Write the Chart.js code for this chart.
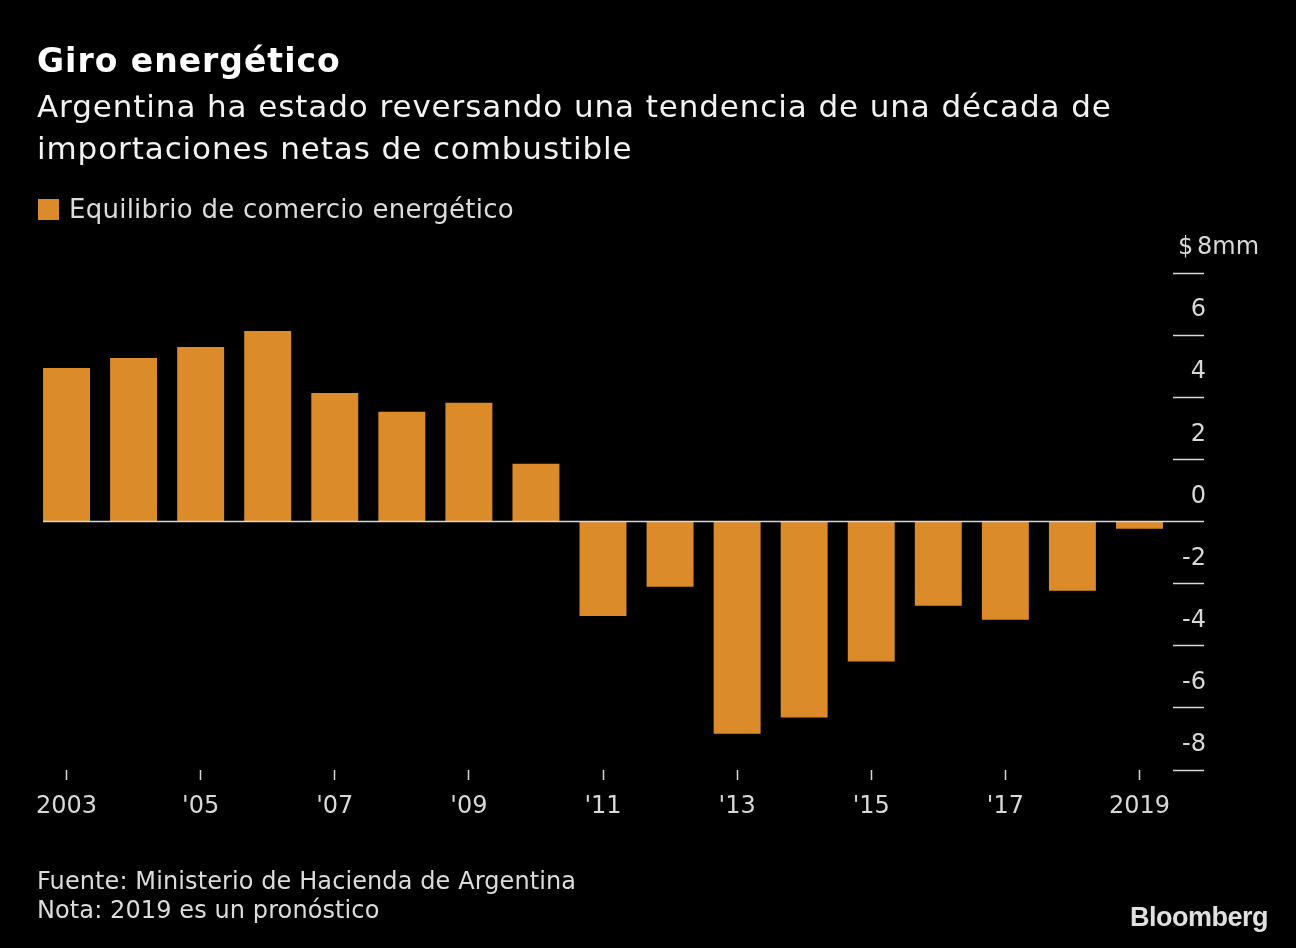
<!DOCTYPE html>
<html>
<head>
<meta charset="utf-8">
<script src="https://cdn.jsdelivr.net/npm/chart.js@4"></script>
<style>
  body { margin: 0; background: #000; width: 1296px; height: 948px; overflow: hidden; font-family: "DejaVu Sans", sans-serif; }
  #chart { position: absolute; left: 0; top: 0; }
  .txt { position: absolute; left: 37px; white-space: nowrap; color: #f2f2f2; }
  #title { top: 41px; font-weight: bold; font-size: 33px; letter-spacing: 1px; color: #fff; }
  #subtitle { top: 85px; font-size: 31px; line-height: 42px; letter-spacing: 0.9px; }
  #legend { top: 194px; font-size: 26px; color: #dcdcdc; left: 38px; letter-spacing: 0.25px; }
  #legend span { display: inline-block; width: 21px; height: 21px; background: #dc8b2a; margin-right: 10px; vertical-align: -2px; }
  #footer { top: 867px; font-size: 24px; line-height: 29px; color: #dcdcdc; letter-spacing: 0.1px; }
  #logo { position: absolute; right: 28px; top: 902px; font-family: "Liberation Sans", sans-serif; font-weight: bold; font-size: 27px; color: #e0e0e0; letter-spacing: -0.5px; }
</style>
</head>
<body>
<canvas id="chart" width="1296" height="948"></canvas>
<div class="txt" id="title">Giro energético</div>
<div class="txt" id="subtitle">Argentina ha estado reversando una tendencia de una década de<br>importaciones netas de combustible</div>
<div class="txt" id="legend"><span></span>Equilibrio de comercio energético</div>
<div class="txt" id="footer">Fuente: Ministerio de Hacienda de Argentina<br>Nota: 2019 es un pronóstico</div>
<div id="logo">Bloomberg</div>
<script>
// data (USD billions)
var years = [2003, 2004, 2005, 2006, 2007, 2008, 2009, 2010, 2011, 2012, 2013, 2014, 2015, 2016, 2017, 2018, 2019];
var balance = [4.94, 5.26, 5.62, 6.13, 4.14, 3.53, 3.82, 1.86, -3.04, -2.10, -6.83, -6.31, -4.51, -2.71, -3.16, -2.23, -0.23];
var tickLabels = ["2003", "", "'05", "", "'07", "", "'09", "", "'11", "", "'13", "", "'15", "", "'17", "", "2019"];
var yTicks = [-8, -6, -4, -2, 0, 2, 4, 6, 8];

var barColor = "#dc8b2a";
var lineColor = "#d8d8d8";
var tickFont = {family: "DejaVu Sans", size: 24};

// zero line from first bar edge, plus the "$8mm" unit label at the top tick
var extras = {
	id: "extras",
	afterDatasetsDraw: function(chart) {
		var ctx = chart.ctx;
		var y = chart.scales.y;
		var bars = chart.getDatasetMeta(0).data;
		var y0 = y.getPixelForValue(0);
		ctx.save();
		ctx.strokeStyle = lineColor;
		ctx.lineWidth = 1.5;
		ctx.beginPath();
		ctx.moveTo(bars[0].x - bars[0].width / 2, y0);
		ctx.lineTo(chart.chartArea.right, y0);
		ctx.stroke();

		var yTop = y.getPixelForValue(yTicks[yTicks.length - 1]) - 25;
		var x0 = chart.chartArea.right + 5;
		ctx.fillStyle = lineColor;
		ctx.font = "24px 'DejaVu Sans'";
		ctx.textAlign = "left";
		ctx.textBaseline = "middle";
		ctx.fillText("$", x0, yTop);
		ctx.fillText(yTicks[yTicks.length - 1] + "mm", x0 + 19, yTop);
		ctx.restore();
	}
};

var ctx = document.getElementById("chart").getContext("2d");

new Chart(ctx, {
	type: "bar",
	data: {
		labels: years,
		datasets: [{
			label: "Equilibrio de comercio energético",
			data: balance,
			backgroundColor: barColor,
			borderWidth: 0,
			categoryPercentage: 1,
			barPercentage: 0.7
		}]
	},
	options: {
		responsive: false,
		animation: false,
		layout: {padding: {left: 33, right: 90, top: 273, bottom: 128}},
		plugins: {legend: {display: false}, tooltip: {enabled: false}},
		scales: {
			x: {
				offset: true,
				border: {display: false},
				grid: {
					offset: false,
					drawOnChartArea: false,
					tickLength: 10,
					tickWidth: 1.5,
					tickColor: function(c) { return tickLabels[c.index] ? lineColor : "transparent"; }
				},
				ticks: {
					autoSkip: false,
					maxRotation: 0,
					padding: 12,
					color: lineColor,
					font: tickFont,
					callback: function(v, i) { return tickLabels[i]; }
				},
				afterFit: function(s) { s.height = 50; }
			},
			y: {
				position: "right",
				min: yTicks[0],
				max: yTicks[yTicks.length - 1],
				border: {display: false},
				afterBuildTicks: function(s) { s.ticks = yTicks.map(function(v) { return {value: v}; }); },
				grid: {
					drawOnChartArea: false,
					tickLength: 31,
					tickWidth: 1.5,
					tickColor: lineColor
				},
				ticks: {
					crossAlign: "far",
					padding: -22,
					labelOffset: -25,
					color: lineColor,
					font: tickFont,
					callback: function(v) { return v === yTicks[yTicks.length - 1] ? "" : v; }
				},
				afterFit: function(s) { s.width = 33; }
			}
		}
	},
	plugins: [extras]
});
</script>
</body>
</html>
